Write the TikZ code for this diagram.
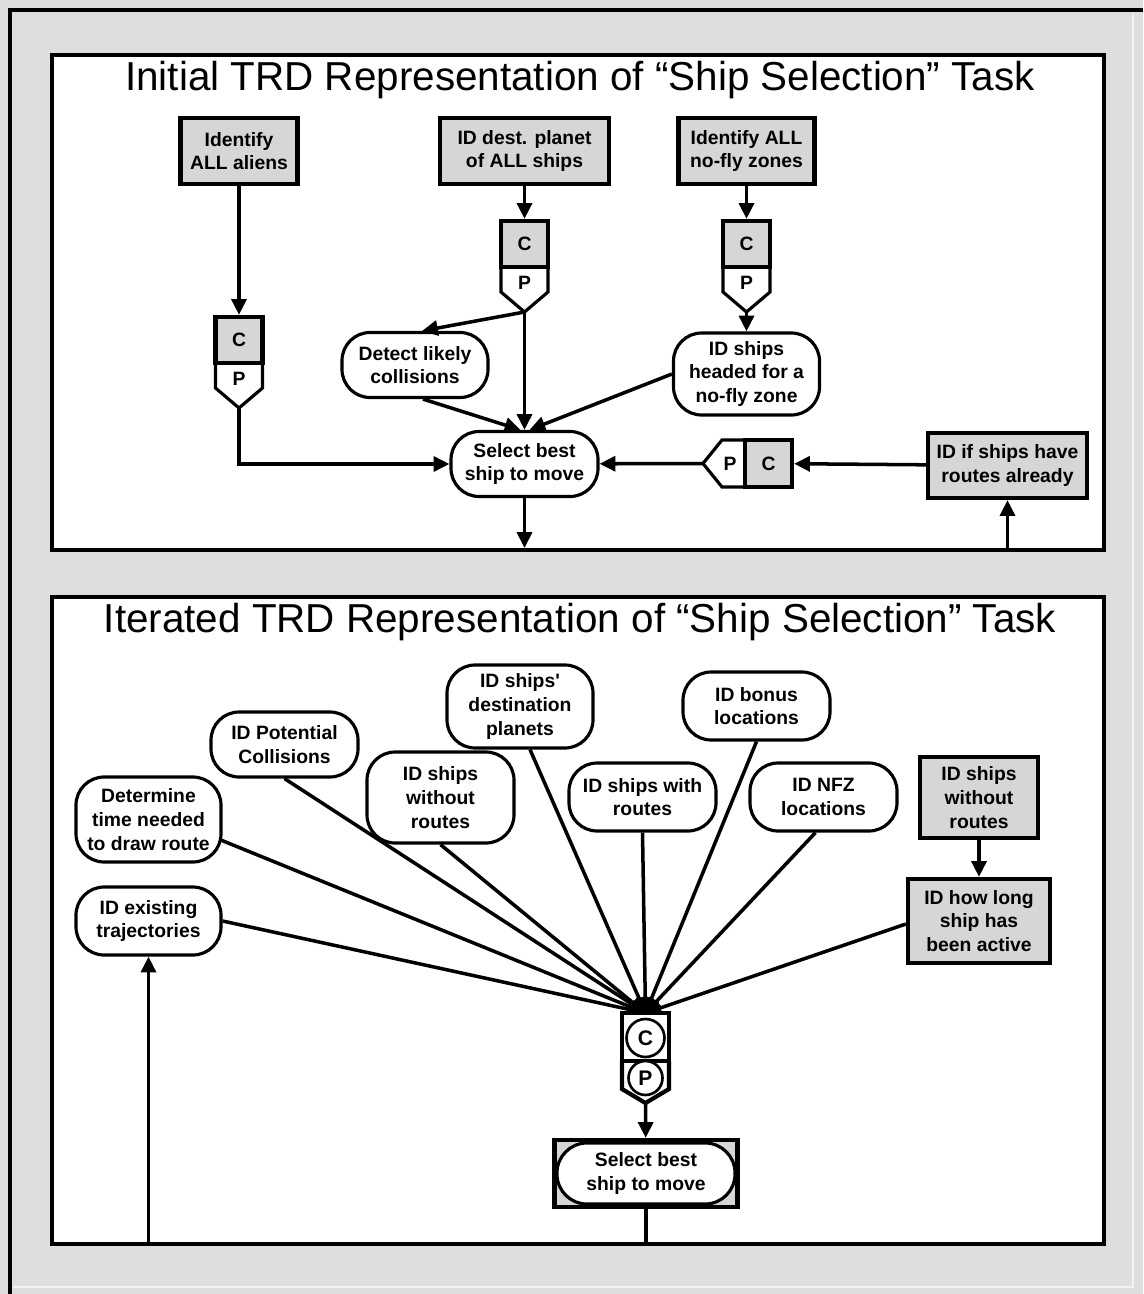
\documentclass[tikz,border=0pt]{standalone}
\usepackage{fontspec}
\setmainfont{Liberation Sans}[Ligatures=TeXOff]
\usetikzlibrary{arrows.meta,calc}
\definecolor{framegray}{HTML}{DEDEDE}
\definecolor{boxgray}{HTML}{D6D6D6}

% vertical C/P pair: name, centre x, top y
\newcommand\cpdown[3]{%
  \draw[line width=1.8pt, fill=white] (#2-23.5,#3+46) -- (#2-23.5,#3+71) -- (#2,#3+91) -- (#2+23.5,#3+71) -- (#2+23.5,#3+46);
  \node[graybox, wh={47}{46}] (#1c) at (#2,#3+23) {C};
  \node (#1plabel) at (#2,#3+62) {P};
  \coordinate (#1p) at (#2,#3+91);
}

\begin{document}
\begin{tikzpicture}[x=0.02cm,y=-0.02cm,
  every node/.style={inner sep=0pt, align=center, font=\bfseries\fontsize{11}{13.5}\selectfont},
  wh/.style 2 args={minimum width=#1*0.02cm, minimum height=#2*0.02cm},
  link/.style={line width=2pt, -{Triangle[length=9pt,width=8.5pt]}},
  plain/.style={line width=2pt},
  graybox/.style={draw, fill=boxgray, line width=2.4pt, rectangle},
  oval/.style={draw, fill=white, line width=1.8pt, rounded corners=16pt},
  title/.style={font=\fontsize{23}{27}\selectfont},
  panel/.style={draw, fill=white, line width=2.8pt}
]
\useasboundingbox (0,0) rectangle (1143,1294);

% outer frame
\fill[framegray] (0,0) rectangle (1143,1294);
\draw[white!60!framegray, line width=0.8pt] (1133,13) -- (1133,1287) -- (13,1287);
\draw[line width=2.8pt] (1143,10) -- (10,10) -- (10,1294);

% panels
\draw[panel] (52,55) rectangle (1104,550);
\draw[panel] (52,597) rectangle (1104,1244);

\node[title] (titlea) at (580,80) {Initial TRD Representation of “Ship Selection” Task};
\node[title] (titleb) at (580,622) {Iterated TRD Representation of “Ship Selection” Task};

% ---------- initial representation ----------
\node[graybox, wh={117}{66}] (aliens) at (239,151) {Identify\\ALL aliens};
\node[graybox, wh={169}{66}] (dest) at (524.5,151) {ID dest. planet\\of ALL ships};
\node[graybox, wh={136}{66}] (nfz) at (746.5,151) {Identify ALL\\no-fly zones};
\node[oval, wh={146}{65}] (detect) at (415,365) {Detect likely\\collisions};
\node[oval, wh={146}{82}] (headed) at (746.5,374) {ID ships\\headed for a\\no-fly zone};
\node[oval, wh={147}{65}] (sel) at (524.5,464) {Select best\\ship to move};
\node[graybox, wh={159}{65}] (routes) at (1007.5,465.5) {ID if ships have\\routes already};

\cpdown{cpa}{239}{317}
\cpdown{cpb}{524.5}{221}
\cpdown{cpc}{746.5}{221}

% horizontal C/P pair
\draw[line width=1.8pt, fill=white] (745,440) -- (722,440) -- (703,463.5) -- (722,487) -- (745,487);
\node[graybox, wh={47}{47}] (hc) at (768.5,463.5) {C};
\node (hplabel) at (730,463.5) {P};
\coordinate (hp) at (703,463.5);

\draw[link] (aliens) -- (cpac);
\draw[link] (dest) -- (cpbc);
\draw[link] (nfz) -- (cpcc);
\draw[link] (cpcp) -- (headed);
\draw[link] (cpbp) -- (sel);
\draw[link] (cpbp) -- ($(detect.north)+(7,0)$);
\draw[link] ($(detect.south)+(8,0)$) -- ($(sel.north)+(-4,0)$);
\draw[link] (headed.west) -- ($(sel.north)+(5,0)$);
\draw[link] (cpap) |- (sel);
\draw[link] (hp) -- (sel);
\draw[link] (routes) -- (hc);
\coordinate (outa) at (524.5,548);
\draw[link] (sel) -- (outa);
\coordinate (ina) at (1007.5,549);
\draw[link] (ina) -- (routes);

% ---------- iterated representation ----------
\node[oval, wh={145}{85}] (determine) at (148.5,819.5) {Determine\\time needed\\to draw route};
\node[oval, wh={145}{68}] (existing) at (148.5,921) {ID existing\\trajectories};
\node[oval, wh={147}{65}] (potential) at (284.5,744.5) {ID Potential\\Collisions};
\node[oval, wh={147}{91}] (without) at (440.5,797.5) {ID ships\\without\\routes};
\node[oval, wh={146}{83}] (destpl) at (520,706.5) {ID ships'\\destination\\planets};
\node[oval, wh={147}{68}] (withroutes) at (642.5,797) {ID ships with\\routes};
\node[oval, wh={147}{68}] (bonus) at (756.5,706) {ID bonus\\locations};
\node[oval, wh={147}{68}] (nfzloc) at (823.5,797) {ID NFZ\\locations};
\node[graybox, wh={118}{81}] (noroutes) at (979,797.5) {ID ships\\without\\routes};
\node[graybox, wh={142}{84}] (howlong) at (979,921) {ID how long\\ship has\\been active};

\coordinate (hub) at (645.5,1013);
\draw[link] ($(determine.east)+(-3,20)$) -- (hub);
\draw[link] (existing.east) -- (hub);
\draw[link] (potential.south) -- (hub);
\draw[link] (without.south) -- (hub);
\draw[link] ($(destpl.south)+(10,0)$) -- (hub);
\draw[link] (withroutes.south) -- (hub);
\draw[link] (bonus.south) -- (hub);
\draw[link] ($(nfzloc.south)+(-8,0)$) -- (hub);
\draw[link] ($(howlong.west)+(0,3)$) -- (hub);
\draw[link] (noroutes) -- (howlong);

% C/P pair with circles
\draw[line width=2.4pt, fill=white] (622,1061) -- (622,1089) -- (645.5,1103) -- (669,1089) -- (669,1061);
\node[draw, fill=white, line width=2.4pt, wh={47}{48}] (hubbox) at (645.5,1037) {};
\node[circle, draw, fill=white, line width=1.5pt, minimum size=0.76cm, font=\bfseries\fontsize{12}{14}\selectfont] (circc) at (645.5,1038) {C};
\node[circle, draw, fill=white, line width=1.5pt, minimum size=0.68cm, font=\bfseries\fontsize{12}{14}\selectfont] (circp) at (645.5,1078) {P};
\coordinate (hubp) at (645.5,1103);

\node[graybox, wh={183}{67}] (selbox) at (646,1173.5) {};
\node[oval, wh={178}{61}, rounded corners=17pt] (selb) at (646,1173.5) {Select best\\ship to move};
\draw[link] (hubp) -- (selbox);
\coordinate (outb) at (646,1244);
\draw[plain] (selbox) -- (outb);
\coordinate (inb) at (148.5,1244);
\draw[link] (inb) -- (existing);
\end{tikzpicture}
\end{document}
